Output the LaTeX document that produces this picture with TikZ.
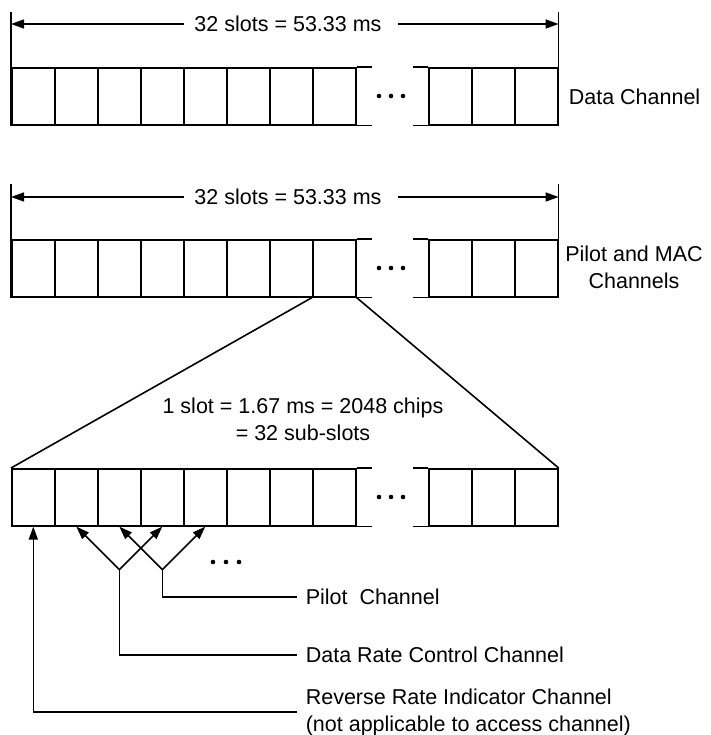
\documentclass[tikz,border=0pt]{standalone}
\usepackage{fontspec}
\setmainfont{Liberation Sans}
\usetikzlibrary{arrows.meta,positioning}

\begin{document}
\begin{tikzpicture}[x=1pt,y=-1pt,line width=1.6pt,>={Triangle[length=13pt,width=9pt]},
  cell/.style={draw,minimum width=43pt,minimum height=57pt,inner sep=0pt,anchor=north west},
  txt/.style={font=\fontsize{21.5}{27}\selectfont,inner sep=0pt}]
  \useasboundingbox (0,0) rectangle (710,735);
  % three rows of slots
  \foreach \row/\ytop in {1/67,2/239,3/468}{
    \foreach \i in {1,...,8}
      \node[cell] (r\row-\i) at ({11+43*(\i-1)},\ytop) {};
    \foreach \i in {9,10,11}
      \node[cell] (r\row-\i) at ({428+43*(\i-9)},\ytop) {};
    \draw (r\row-8.north east) -- ++(15,0) (r\row-8.south east) -- ++(15,0);
    \draw (r\row-9.north west) -- ++(-15,0) (r\row-9.south west) -- ++(-15,0);
    \foreach \d in {-12,0,12}
      \fill ({391+\d},{\ytop+29}) circle (2.3pt);
  }
  % frame length
  \foreach \row/\yarr in {1/24,2/197}{
    \node[txt] (span\row) at (288,\yarr) {32 slots = 53.33 ms};
    \draw (r\row-1.south west) -- ++(0,-114) coordinate (lt\row);
    \draw (r\row-11.south east) -- ++(0,-114) coordinate (rt\row);
    \draw[->] ([xshift=-10pt]span\row.west) -- (lt\row |- span\row.west);
    \draw[->] ([xshift=16pt]span\row.east) -- (rt\row |- span\row.east);
  }
  \node[txt,anchor=west] (data) at (568,97) {Data Channel};
  \node[txt,align=center] (pilotmac) at (634,267) {Pilot and MAC\\Channels};
  % one slot opened up
  \draw (r2-8.south west) -- (r3-1.north west);
  \draw (r2-8.south east) -- (r3-11.north east);
  \node[txt,align=center] (slotinfo) at (303,419) {1 slot = 1.67 ms = 2048 chips\\= 32 sub-slots};
  % sub-slot channels
  \coordinate (drc) at ([yshift=-43pt]r3-3.south);
  \coordinate (pil) at ([yshift=-43pt]r3-4.south);
  \draw[->] (drc) -- (r3-2.south);
  \draw[->] (drc) -- (r3-4.south);
  \draw[->] (pil) -- (r3-3.south);
  \draw[->] (pil) -- (r3-5.south);
  \foreach \d in {-13,0,13}
    \fill ({226+\d},562) circle (2.3pt);
  \node[txt,anchor=west] (pilotlbl) at (305,597) {Pilot\ \ Channel};
  \node[txt,anchor=west] (drclbl) at (305,655) {Data Rate Control Channel};
  \node[txt,anchor=west,align=left] (rrilbl) at (305,712) {Reverse Rate Indicator Channel\\(not applicable to access channel)};
  \draw ([xshift=-8pt]pilotlbl.west) -| (pil);
  \draw ([xshift=-8pt]drclbl.west) -| (drc);
  \draw[->] ([xshift=-8pt]rrilbl.west) -| (r3-1.south);
\end{tikzpicture}
\end{document}
